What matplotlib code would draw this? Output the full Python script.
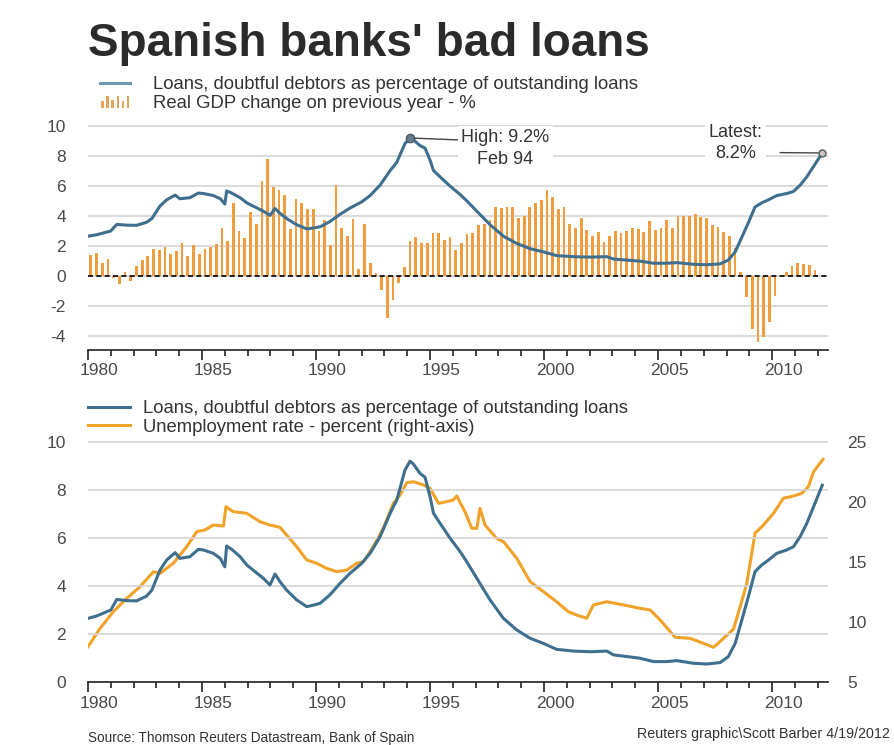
import numpy as np
import matplotlib
matplotlib.use("Agg")
import matplotlib.pyplot as plt
from matplotlib.patches import Rectangle, Patch
from matplotlib.lines import Line2D
from matplotlib.legend_handler import HandlerBase
from matplotlib.transforms import ScaledTranslation

plt.rcParams['font.family'] = ['Liberation Sans', 'DejaVu Sans']

# Loans, doubtful debtors as % of outstanding loans
loan_year = [1980.0, 1980.38, 1980.82, 1981.0, 1981.26, 1981.7, 1982.13, 1982.57, 1982.8, 1983.16,
             1983.45, 1983.82, 1984.03, 1984.47, 1984.84, 1985.06, 1985.5, 1985.8, 1986.0, 1986.08,
             1986.3, 1986.67, 1986.96, 1987.32, 1987.69, 1987.98, 1988.2, 1988.42, 1988.71, 1989.15,
             1989.59, 1989.88, 1990.18, 1990.61, 1991.05, 1991.49, 1992.0, 1992.37, 1992.81, 1993.25,
             1993.54, 1993.9, 1994.12, 1994.27, 1994.56, 1994.78, 1995.0, 1995.15, 1995.44, 1995.88,
             1996.32, 1996.61, 1997.05, 1997.63, 1998.22, 1998.8, 1999.39, 1999.97, 2000.55, 2001.28,
             2002.02, 2002.75, 2003.04, 2003.63, 2004.21, 2004.8, 2005.38, 2005.82, 2006.55, 2007.13,
             2007.72, 2008.08, 2008.38, 2008.67, 2008.96, 2009.25, 2009.55, 2009.84, 2010.2, 2010.64,
             2010.94, 2011.23, 2011.52, 2011.82, 2012.2]
loan_pct = [2.65, 2.75, 2.93, 3.0, 3.44, 3.39, 3.38, 3.58, 3.83, 4.67,
            5.08, 5.39, 5.15, 5.22, 5.53, 5.5, 5.36, 5.15, 4.8, 5.67,
            5.53, 5.22, 4.88, 4.6, 4.32, 4.04, 4.5, 4.18, 3.83, 3.42,
            3.14, 3.2, 3.28, 3.63, 4.11, 4.53, 4.94, 5.36, 6.06, 7.03,
            7.58, 8.83, 9.2, 9.08, 8.69, 8.53, 7.72, 7.03, 6.61, 5.99,
            5.43, 5.01, 4.32, 3.42, 2.65, 2.17, 1.82, 1.61, 1.36, 1.29,
            1.26, 1.29, 1.13, 1.06, 0.99, 0.85, 0.85, 0.89, 0.78, 0.75,
            0.81, 1.06, 1.61, 2.58, 3.56, 4.6, 4.88, 5.08, 5.36, 5.5,
            5.64, 6.06, 6.61, 7.31, 8.2]

# Unemployment rate, percent
unemp_year = [1980.0, 1980.53, 1981.11, 1981.7, 1982.28, 1982.87, 1983.16, 1983.74, 1984.33, 1984.77,
              1985.13, 1985.5, 1985.94, 1986.05, 1986.37, 1986.96, 1987.54, 1987.98, 1988.42, 1988.71,
              1989.15, 1989.59, 1990.03, 1990.47, 1990.91, 1991.35, 1991.78, 1992.08, 1992.51, 1992.95,
              1993.39, 1993.68, 1993.98, 1994.27, 1994.71, 1995.0, 1995.37, 1995.73, 1996.02, 1996.17,
              1996.53, 1996.83, 1997.05, 1997.19, 1997.41, 1997.92, 1998.22, 1998.8, 1999.39, 1999.97,
              2000.55, 2001.06, 2001.43, 2001.87, 2002.16, 2002.75, 2003.48, 2004.21, 2004.65, 2005.09,
              2005.75, 2006.4, 2006.99, 2007.43, 2007.87, 2008.3, 2008.6, 2008.89, 2009.25, 2009.62,
              2010.06, 2010.49, 2010.94, 2011.3, 2011.59, 2011.82, 2012.23]
unemp_pct = [7.94, 9.47, 10.86, 11.97, 12.94, 14.19, 14.06, 14.89, 16.28, 17.53,
             17.67, 18.08, 18.0, 19.61, 19.19, 19.06, 18.36, 18.08, 17.89, 17.25,
             16.28, 15.17, 14.89, 14.47, 14.19, 14.33, 14.89, 15.03, 16.28, 17.81,
             19.89, 20.58, 21.61, 21.69, 21.42, 21.14, 19.89, 20.03, 20.17, 20.5,
             19.19, 17.81, 17.81, 19.47, 18.08, 16.97, 16.69, 15.31, 13.36, 12.53,
             11.69, 10.86, 10.58, 10.31, 11.42, 11.69, 11.42, 11.14, 11.0, 10.17,
             8.72, 8.64, 8.22, 7.89, 8.64, 9.39, 11.28, 13.22, 17.39, 18.08,
             19.06, 20.31, 20.5, 20.72, 21.28, 22.53, 23.56]

# Real GDP change on previous year, quarterly from 1980 Q1
gdp_first_year = 1980
gdp_change = [1.4, 1.55, 0.9, 1.15, -0.1, -0.5, 0.3, -0.3, 0.65, 1.05,
              1.35, 1.8, 1.75, 1.95, 1.45, 1.7, 2.2, 1.35, 2.05, 1.45,
              1.8, 1.95, 2.15, 3.2, 2.35, 4.85, 3.0, 2.55, 4.3, 3.45,
              6.35, 7.8, 5.95, 5.75, 5.4, 3.15, 5.15, 4.9, 4.45, 4.5,
              3.0, 3.75, 2.05, 6.05, 3.2, 2.65, 3.8, 0.5, 3.45, 0.9,
              0.2, -0.95, -2.8, -1.6, -0.45, 0.6, 2.35, 2.6, 2.2, 2.2,
              2.85, 2.9,
              2.4, 2.6, 1.75, 2.2, 2.8, 2.9, 3.4, 3.45, 3.75, 4.6,
              4.55, 4.6, 4.6, 3.9, 4.0, 4.6, 4.9, 5.1, 5.75, 5.25,
              4.5, 4.6, 3.5, 3.2, 3.85, 3.1, 2.65, 2.95, 2.3, 2.7,
              3.0, 2.85, 3.0, 3.2, 3.15, 2.95, 3.7, 3.05, 3.2, 3.75,
              3.2, 4.0, 4.0, 4.0, 4.15, 3.95, 3.85, 3.4, 3.3, 2.95,
              2.65, 1.9, 0.3, -1.4, -3.55, -4.4, -4.05, -3.05, -1.35, -0.05,
              0.3, 0.65, 0.9, 0.8, 0.75, 0.4, 0.02]

high_point = (1994.12, 9.2)
latest_point = (2012.2, 8.2)
tick_years = [1980, 1985, 1990, 1995, 2000, 2005, 2010]

BLUE = '#3f6f8e'
ORANGE = '#f0a229'
BAR = '#ef9d3e'
GRID = '#d4d4d4'
TXT = '#333333'
TICK = '#4a4a4a'


class BarsHandler(HandlerBase):
    # little "lılıl" glyph for the bar legend entry
    def create_artists(self, legend, orig_handle, xdescent, ydescent,
                       width, height, fontsize, trans):
        hs = [0.55, 0.95, 0.6, 0.95, 0.55, 0.95]
        step = width / len(hs)
        arts = []
        for i, h in enumerate(hs):
            arts.append(Rectangle((-xdescent + i * step + step * 0.25, -ydescent),
                                  step * 0.5, height * h, facecolor='#dfa55a',
                                  edgecolor='none', transform=trans))
        return arts


def style_xaxis(ax):
    ax.set_xlim(1980, 2012.45)
    ax.set_xticks(tick_years)
    ax.set_xticklabels([str(y) for y in tick_years])
    ax.set_xticks(np.arange(1980, 2013), minor=True)
    ax.tick_params(axis='x', which='major', length=7, width=1.2, color='#222222',
                   labelsize=12.5, labelcolor=TICK, pad=3)
    ax.tick_params(axis='x', which='minor', length=4, width=1.2, color='#222222')
    # labels sit half a year to the right of their tick
    for lab in ax.get_xticklabels():
        lab.set_transform(lab.get_transform() + ScaledTranslation(0.11, 0, ax.figure.dpi_scale_trans))
    for s in ['top', 'left', 'right']:
        ax.spines[s].set_visible(False)
    ax.spines['bottom'].set_color('#222222')
    ax.spines['bottom'].set_linewidth(1.2)


fig = plt.figure(figsize=(8.94, 7.45), dpi=100)
fig.patch.set_facecolor('white')

W, H = 894.0, 745.0

# ---------------- top panel ----------------
ax1 = fig.add_axes([88 / W, (H - 349.5) / H, 740 / W, 231 / H])
gdp_x = gdp_first_year + np.arange(len(gdp_change)) / 4.0 + 0.125
ax1.bar(gdp_x, gdp_change, width=0.12, color=BAR, edgecolor='none', zorder=2)
ax1.plot(loan_year, loan_pct, color=BLUE, lw=2.2, zorder=3)
ax1.axhline(0, color='black', lw=1.2, ls=(0, (3, 2)), zorder=2.5)
ax1.set_ylim(-4.9, 10.5)
ax1.set_yticks([-4, -2, 0, 2, 4, 6, 8, 10])
ax1.set_yticklabels(['-4', '-2', '0', '2', '4', '6', '8', '10'])
ax1.yaxis.grid(True, color=GRID, lw=1.2)
ax1.set_axisbelow(True)
ax1.tick_params(axis='y', length=0, labelsize=12.5, labelcolor=TICK, pad=16)
style_xaxis(ax1)

ax1.plot(*high_point, 'o', ms=6, mfc='#6b7c88', mec='#4a5a66', zorder=4)
ax1.annotate('High: 9.2%\nFeb 94', xy=high_point, xytext=(1998.3, 8.5),
             ha='center', va='center', fontsize=13, color=TXT, linespacing=1.35,
             bbox=dict(boxstyle='square,pad=0.2', fc='white', ec='none'),
             arrowprops=dict(arrowstyle='-', color='#444444', lw=1.0,
                             relpos=(0, 0.72), shrinkA=0, shrinkB=3), zorder=5)
ax1.plot(*latest_point, 'o', ms=5, mfc='#c8c8c8', mec='#555555', zorder=4)
ax1.annotate('Latest:\n8.2%', xy=latest_point, xytext=(2008.4, 8.88),
             ha='center', va='center', fontsize=13, color=TXT, linespacing=1.35,
             bbox=dict(boxstyle='square,pad=0.2', fc='white', ec='none'),
             arrowprops=dict(arrowstyle='-', color='#444444', lw=1.0,
                             relpos=(1.0, 0.25), shrinkA=10, shrinkB=3), zorder=5)

bars_proxy = Patch(facecolor=BAR)
fig.legend([Line2D([], [], color='#6e98ae', lw=2.2), bars_proxy],
           ['Loans, doubtful debtors as percentage of outstanding loans',
            'Real GDP change on previous year - %'],
           handler_map={bars_proxy: BarsHandler()},
           loc='upper left', bbox_to_anchor=(100 / W, 1 - 76 / H),
           frameon=False, fontsize=13.3, handlelength=1.65, handleheight=0.7,
           handletextpad=1.2, labelspacing=0.12, borderpad=0, borderaxespad=0,
           labelcolor=TXT)

# ---------------- bottom panel ----------------
ax2 = fig.add_axes([88 / W, (H - 682) / H, 740 / W, 247.2 / H])
ax2.plot(loan_year, loan_pct, color=BLUE, lw=2.2, zorder=3)
ax2.set_ylim(0, 10.3)
ax2.set_yticks([0, 2, 4, 6, 8, 10])
ax2.set_yticklabels(['0', '2', '4', '6', '8', '10'])
ax2.yaxis.grid(True, color=GRID, lw=1.2)
ax2.set_axisbelow(True)
ax2.tick_params(axis='y', length=0, labelsize=12.5, labelcolor=TICK, pad=16)
style_xaxis(ax2)

ax3 = ax2.twinx()
ax3.plot(unemp_year, unemp_pct, color=ORANGE, lw=2.2, zorder=3)
ax3.set_ylim(5, 25.6)
ax3.set_yticks([5, 10, 15, 20, 25])
ax3.tick_params(axis='y', length=0, labelsize=12.5, labelcolor=TICK, pad=14)
for s in ['top', 'left', 'right', 'bottom']:
    ax3.spines[s].set_visible(False)
ax2.set_zorder(ax3.get_zorder() + 1)
ax2.patch.set_visible(False)

fig.legend([Line2D([], [], color=BLUE, lw=2.2), Line2D([], [], color=ORANGE, lw=2.2)],
           ['Loans, doubtful debtors as percentage of outstanding loans',
            'Unemployment rate - percent (right-axis)'],
           loc='upper left', bbox_to_anchor=(88 / W, 1 - 400 / H),
           frameon=False, fontsize=13.3, handlelength=2.3,
           handletextpad=0.7, labelspacing=0.1, borderpad=0, borderaxespad=0,
           labelcolor=TXT)

# ---------------- titles / footer ----------------
fig.text(88 / W, 1 - 56 / H, "Spanish banks' bad loans", fontsize=33, fontweight='bold',
         color='#2b2b2b', ha='left', va='baseline')
fig.text(88 / W, 1 - 738 / H, 'Source: Thomson Reuters Datastream, Bank of Spain',
         fontsize=9.8, color=TXT, ha='left', va='center')
fig.text(890 / W, 1 - 734 / H, 'Reuters graphic\\Scott Barber 4/19/2012',
         fontsize=10.3, color=TXT, ha='right', va='center')

fig.savefig('out.png', dpi=100, facecolor='white')
